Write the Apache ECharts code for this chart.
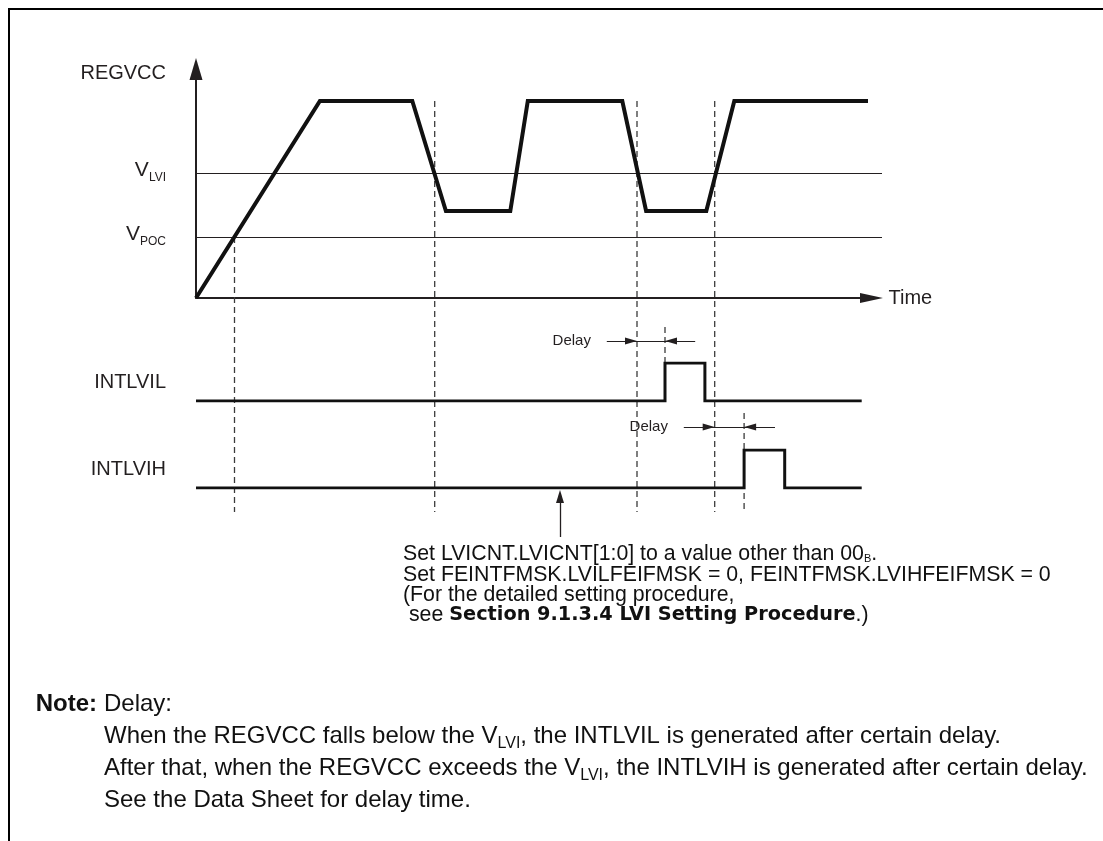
<!DOCTYPE html>
<html><head><meta charset="utf-8">
<script src="https://cdn.jsdelivr.net/npm/echarts@6/dist/echarts.min.js"></script>
<style>html,body{margin:0;padding:0;background:#fff}#c{width:1103px;height:841px}</style>
</head><body><div id="c"></div>
<script>
// ---- data (time in arbitrary units, REGVCC level in arbitrary units) ----
const regvccTime  = [0, 17.7, 30.9, 35.7, 44.9, 47.4, 60.9, 64.3, 72.9, 76.9, 96];
const regvccLevel = [0, 9.85, 9.85, 4.35, 4.35, 9.85, 9.85, 4.35, 4.35, 9.85, 9.85];
const thresholdNames  = ['LVI', 'POC'];
const thresholdValues = [6.25, 3.05];
const intlvilTime  = [0, 67, 67, 72.7, 72.7, 95.1];
const intlvilLevel = [0, 0, 1, 1, 0, 0];
const intlvihTime  = [0, 78.3, 78.3, 84.1, 84.1, 95.1];
const intlvihLevel = [0, 0, 1, 1, 0, 0];
// dashed guide lines (time, top, bottom) in REGVCC-level units
const guideTime   = [5.5, 34.1, 63.0, 74.1, 67.0, 78.3];
const guideTop    = [3.05, 9.85, 9.85, 9.85, -1.45, -5.75];
const guideBottom = [-10.7, -10.7, -10.7, -10.7, -3.25, -10.7];
// delay dimension arrows
const delayFrom  = [63.0, 74.1];
const delayTo    = [67.0, 78.3];
const delayLevel = [-2.15, -6.45];
const delayTail  = [4.3, 4.4];
const delayLabel = ['Delay', 'Delay'];
// annotation arrow
const noteArrowTime = 52;
const noteArrowFrom = -11.95;
const noteArrowTip  = -9.6;
const annotationLines = [
  'Set LVICNT.LVICNT[1:0] to a value other than 00{sub|B}.',
  'Set FEINTFMSK.LVILFEIFMSK = 0, FEINTFMSK.LVIHFEIFMSK = 0',
  '(For the detailed setting procedure,',
  ' see {b|Section 9.1.3.4 LVI Setting Procedure}.)'
];
const noteTitle = 'Note:';
const noteLines = [
  'Delay:',
  'When the REGVCC falls below the V{sub|LVI}, the INTLVIL is generated after certain delay.',
  'After that, when the REGVCC exceeds the V{sub|LVI}, the INTLVIH is generated after certain delay.',
  'See the Data Sheet for delay time.'
];

// ---- chart ----
const FONT = '"Liberation Sans", Arial, Helvetica, sans-serif';
const INK = '#231f20';
const WAVE = '#111111';
const TXT = '#111111';
const zip = (a, b) => a.map((v, i) => [v, b[i]]);
const chart = echarts.init(document.getElementById('c'), null, {renderer: 'canvas'});

const X_OVER_MAX = 98, Y_OVER_MIN = -13.1, Y_OVER_MAX = 12;
const OVER = {left: 196, top: 58, width: 686, height: 502};
const pxX = OVER.width / X_OVER_MAX;
const pxY = OVER.height / (Y_OVER_MAX - Y_OVER_MIN);
const ARROW_H = 12, ARROW_W = 7;
const headBack = (ARROW_H / 2) / pxX;

const hidden = {show: false};
function hiddenAxis(gi, min, max) {
  return {gridIndex: gi, type: 'value', min: min, max: max, show: false};
}
function nameAxis(gi, name) {
  return {gridIndex: gi, type: 'value', min: 0, max: 1, show: true,
    axisLine: hidden, axisTick: hidden, axisLabel: hidden, splitLine: hidden,
    name: name, nameLocation: 'middle', nameRotate: 0, nameGap: 30,
    nameTextStyle: {fontFamily: FONT, fontSize: 20, color: INK, align: 'right', verticalAlign: 'middle', padding: [0, 0, 9, 0]}};
}

const series = [];
guideTime.forEach((t, i) => {
  series.push({type: 'line', xAxisIndex: 3, yAxisIndex: 3, symbol: 'none', silent: true, z: 1,
    data: [[t, guideTop[i]], [t, guideBottom[i]]],
    lineStyle: {color: '#3a3a3a', width: 1.3, type: [6, 4]}});
});
series.push({type: 'line', xAxisIndex: 3, yAxisIndex: 3, data: [], silent: true, z: 2,
  markLine: {silent: true, animation: false, symbol: ['none', 'none'],
    lineStyle: {color: INK, width: 1, type: 'solid'},
    label: {show: true, position: 'start', distance: 30,
      formatter: p => '{v|V}{s|' + p.name + '}',
      rich: {v: {fontFamily: FONT, fontSize: 21, color: INK, lineHeight: 22, padding: [0, 0, 5, 0]},
             s: {fontFamily: FONT, fontSize: 12, color: INK, lineHeight: 9, verticalAlign: 'bottom'}}},
    emphasis: {disabled: true},
    data: thresholdNames.map((n, i) => ({name: n, yAxis: thresholdValues[i]}))}});
series.push({type: 'line', xAxisIndex: 0, yAxisIndex: 0, symbol: 'none', silent: true, z: 5,
  data: zip(regvccTime, regvccLevel), lineStyle: {color: WAVE, width: 4, join: 'miter', cap: 'butt'}});
series.push({type: 'line', xAxisIndex: 1, yAxisIndex: 1, symbol: 'none', silent: true, z: 5,
  data: zip(intlvilTime, intlvilLevel), lineStyle: {color: WAVE, width: 3, join: 'miter'}});
series.push({type: 'line', xAxisIndex: 2, yAxisIndex: 2, symbol: 'none', silent: true, z: 5,
  data: zip(intlvihTime, intlvihLevel), lineStyle: {color: WAVE, width: 3, join: 'miter'}});
const delayData = [];
delayFrom.forEach((a, i) => {
  const b = delayTo[i], y = delayLevel[i], tail = delayTail[i];
  delayData.push([{coord: [a - tail, y], symbol: 'none', label: {show: true, formatter: delayLabel[i]}},
                  {coord: [b + tail, y], symbol: 'none'}]);
  delayData.push([{coord: [a - tail, y], symbol: 'none', label: {show: false}},
                  {coord: [a - headBack, y], symbol: 'triangle', symbolSize: [ARROW_W, ARROW_H]}]);
  delayData.push([{coord: [b + tail, y], symbol: 'none', label: {show: false}},
                  {coord: [b + headBack, y], symbol: 'triangle', symbolSize: [ARROW_W, ARROW_H]}]);
});
series.push({type: 'line', xAxisIndex: 3, yAxisIndex: 3, data: [], silent: true, z: 6,
  markLine: {silent: true, animation: false, symbol: ['none', 'none'],
    lineStyle: {color: INK, width: 1, type: 'solid'},
    itemStyle: {color: INK},
    label: {show: false, position: 'start', distance: 16, fontFamily: FONT, fontSize: 15, color: INK},
    emphasis: {disabled: true},
    data: delayData}});
series.push({type: 'line', xAxisIndex: 3, yAxisIndex: 3, data: [], silent: true, z: 6,
  markLine: {silent: true, animation: false, symbol: ['none', 'none'],
    lineStyle: {color: INK, width: 1.3, type: 'solid'}, itemStyle: {color: INK},
    label: {show: false}, emphasis: {disabled: true},
    data: [[{coord: [noteArrowTime, noteArrowFrom], symbol: 'none'},
            {coord: [noteArrowTime, noteArrowTip - 6.5 / pxY], symbol: 'triangle', symbolSize: [8, 13]}]]}});

chart.setOption({
  animation: false,
  backgroundColor: '#ffffff',
  grid: [
    {left: 196, top: 69, width: 675.5, height: 229, containLabel: false, outerBoundsMode: 'none'},
    {left: 196, top: 363, width: 686, height: 38, containLabel: false, outerBoundsMode: 'none'},
    {left: 196, top: 450, width: 686, height: 38, containLabel: false, outerBoundsMode: 'none'},
    Object.assign({containLabel: false, outerBoundsMode: 'none'}, OVER)
  ],
  xAxis: [
    {gridIndex: 0, type: 'value', min: 0, max: 96.5,
      axisLine: {show: true, onZero: false, symbol: ['none', 'triangle'], symbolSize: [10, 23], lineStyle: {color: INK, width: 2}},
      axisTick: hidden, axisLabel: hidden, splitLine: hidden,
      name: 'Time', nameLocation: 'end', nameGap: 17,
      nameTextStyle: {fontFamily: FONT, fontSize: 20, color: INK, align: 'left', verticalAlign: 'middle'}},
    hiddenAxis(1, 0, X_OVER_MAX), hiddenAxis(2, 0, X_OVER_MAX), hiddenAxis(3, 0, X_OVER_MAX)
  ],
  yAxis: [
    {gridIndex: 0, type: 'value', min: 0, max: 11.45,
      axisLine: {show: true, onZero: false, symbol: ['none', 'triangle'], symbolSize: [13, 22], lineStyle: {color: INK, width: 2}},
      axisTick: hidden, axisLabel: hidden, splitLine: hidden,
      name: 'REGVCC', nameLocation: 'end', nameGap: -4,
      nameTextStyle: {fontFamily: FONT, fontSize: 20, color: INK, align: 'right', verticalAlign: 'middle', padding: [0, 30, 0, 0]}},
    nameAxis(1, 'INTLVIL'), nameAxis(2, 'INTLVIH'),
    hiddenAxis(3, Y_OVER_MIN, Y_OVER_MAX)
  ],
  series: series,
  graphic: [
    {type: 'polyline', silent: true, shape: {points: [[9, 841], [9, 9], [1103, 9]]},
      style: {stroke: '#000', lineWidth: 2, fill: null}},
    {type: 'text', left: 403, top: 544, silent: true,
      style: {text: annotationLines.join('\n'), fontFamily: FONT, fontSize: 21.3, fill: TXT, lineHeight: 20.3,
        rich: {
          sub: {fontFamily: FONT, fontSize: 11, fill: TXT, lineHeight: 7, verticalAlign: 'bottom'},
          b: {fontFamily: '"DejaVu Sans", ' + FONT, fontSize: 19.3, fontWeight: 'bold', fill: TXT, lineHeight: 20.3}
        }}},
    {type: 'text', silent: true, x: 97, y: 688,
      style: {text: noteTitle, fontFamily: FONT, fontSize: 24, fontWeight: 'bold', fill: TXT,
        lineHeight: 32, align: 'right', verticalAlign: 'top'}},
    {type: 'text', left: 104, top: 688, silent: true,
      style: {text: noteLines.join('\n'), fontFamily: FONT, fontSize: 24, fill: TXT, lineHeight: 32,
        rich: {sub: {fontFamily: FONT, fontSize: 16, fill: TXT, lineHeight: 22, verticalAlign: 'bottom'}}}}
  ]
});
</script></body></html>
